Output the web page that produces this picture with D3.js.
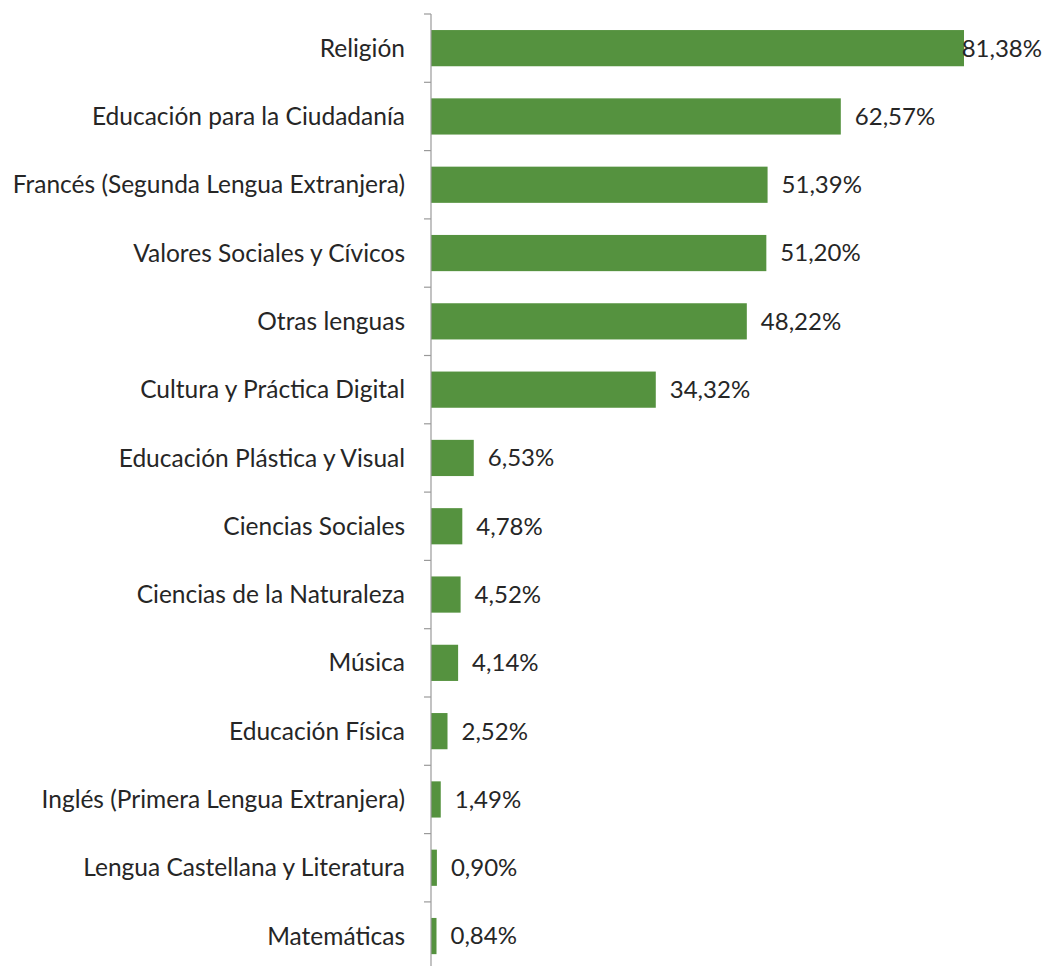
<!DOCTYPE html>
<html>
<head>
<meta charset="utf-8">
<script src="https://cdn.jsdelivr.net/npm/d3@7"></script>
<style>
  body { margin: 0; background: #fff; }
  text { font-family: Lato, "Noto Sans", sans-serif; fill: #262626; }
</style>
</head>
<body>
<div id="chart"></div>
<script>
// data
const categories = [
  "Religión",
  "Educación para la Ciudadanía",
  "Francés (Segunda Lengua Extranjera)",
  "Valores Sociales y Cívicos",
  "Otras lenguas",
  "Cultura y Práctica Digital",
  "Educación Plástica y Visual",
  "Ciencias Sociales",
  "Ciencias de la Naturaleza",
  "Música",
  "Educación Física",
  "Inglés (Primera Lengua Extranjera)",
  "Lengua Castellana y Literatura",
  "Matemáticas"
];
const values = [81.38, 62.57, 51.39, 51.20, 48.22, 34.32, 6.53, 4.78, 4.52, 4.14, 2.52, 1.49, 0.90, 0.84];

const WIDTH = 1045, HEIGHT = 966;
const AXIS_X = 431, TOP = 14, STEP = 68.3;

const data = categories.map((c, i) => ({ name: c, value: values[i] }));

const svg = d3.select("#chart")
  .append("svg")
    .attr("width", WIDTH)
    .attr("height", HEIGHT);

// scales
const x = d3.scaleLinear()
  .domain([0, 81.38])
  .range([AXIS_X, 964]);

const y = d3.scaleBand()
  .domain(categories)
  .range([TOP, TOP + STEP * categories.length])
  .paddingInner(0.47)
  .paddingOuter(0.235);

// bars
svg.selectAll("rect.bar")
  .data(data)
  .enter()
  .append("rect")
    .attr("class", "bar")
    .attr("x", x(0))
    .attr("y", d => y(d.name))
    .attr("width", d => x(d.value) - x(0))
    .attr("height", y.bandwidth())
    .attr("fill", "#55923f");

// axis with ticks at band boundaries
const yAxisG = svg.append("g");
yAxisG.append("line")
  .attr("x1", AXIS_X).attr("x2", AXIS_X)
  .attr("y1", TOP).attr("y2", HEIGHT)
  .attr("stroke", "#9a9a9a")
  .attr("stroke-width", 1.2);

const boundaries = d3.range(categories.length + 1).map(i => TOP + i * STEP);
yAxisG.selectAll("line.tick")
  .data(boundaries)
  .enter()
  .append("line")
    .attr("class", "tick")
    .attr("x1", AXIS_X - 7).attr("x2", AXIS_X)
    .attr("y1", d => d).attr("y2", d => d)
    .attr("stroke", "#9a9a9a")
    .attr("stroke-width", 1.2);

// category labels
svg.selectAll("text.cat")
  .data(data)
  .enter()
  .append("text")
    .attr("class", "cat")
    .attr("x", 405)
    .attr("y", d => y(d.name) + y.bandwidth() / 2)
    .attr("dy", "0.35em")
    .attr("text-anchor", "end")
    .style("font-size", "24.5px")
    .text(d => d.name);

// value labels
const fmt = v => v.toFixed(2).replace(".", ",") + "%";
svg.selectAll("text.val")
  .data(data)
  .enter()
  .append("text")
    .attr("class", "val")
    .attr("y", d => y(d.name) + y.bandwidth() / 2)
    .attr("dy", "0.35em")
    .style("font-size", "24px")
    .text(d => fmt(d.value))
    .attr("x", function(d) {
      const w = this.getComputedTextLength();
      return Math.min(x(d.value) + 14, WIDTH - 3 - w);
    });
</script>
</body>
</html>
